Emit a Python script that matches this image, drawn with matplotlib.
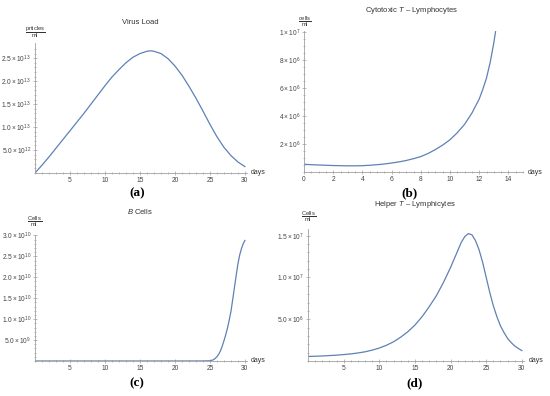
import numpy as np
import matplotlib.pyplot as plt

plt.rcParams['font.family'] = ['Liberation Sans', 'DejaVu Sans']
plt.rcParams['mathtext.fontset'] = 'custom'
plt.rcParams['mathtext.rm'] = 'Liberation Sans'
plt.rcParams['mathtext.it'] = 'Liberation Sans:italic'

# (a) virus load, particles/ml (units of 1e12)
virus_days = [0, 1, 2, 3, 4, 5, 6, 7, 8, 9, 10, 11, 12, 13, 14, 15, 16, 16.5, 17, 18, 19, 20,
              21, 22, 23, 24, 25, 26, 27, 28, 29, 30]
virus_load = [0, 1.7, 3.5, 5.4, 7.3, 9.2, 11.1, 13.0, 15.0, 17.0, 19.0, 20.9, 22.5, 24.0,
              25.2, 26.0, 26.5, 26.6, 26.5, 26.0, 24.9, 23.3, 21.3, 18.9, 16.3, 13.5, 10.6,
              7.9, 5.6, 3.8, 2.4, 1.4]

# (b) cytotoxic T lymphocytes, cells/ml (units of 1e6)
ctl_days = [0, 0.5, 1, 1.5, 2, 2.5, 3, 3.5, 4, 4.5, 5, 5.5, 6, 6.5, 7, 7.5, 8, 8.5, 9, 9.5,
            10, 10.5, 11, 11.5, 12, 12.25, 12.5, 12.75, 13, 13.12]
ctl_cells = [0.55, 0.52, 0.5, 0.48, 0.46, 0.45, 0.44, 0.44, 0.45, 0.48, 0.52, 0.57, 0.64,
             0.72, 0.82, 0.95, 1.1, 1.32, 1.6, 1.92, 2.3, 2.8, 3.4, 4.2, 5.2, 5.9, 6.7, 7.8,
             9.2, 10.0]

# (c) B cells, cells/ml (units of 1e9)
b_days = [0, 5, 10, 15, 20, 24, 25, 25.25, 25.5, 25.75, 26, 26.25, 26.5, 26.75, 27, 27.25,
          27.5, 27.75, 28, 28.25, 28.5, 28.75, 29, 29.25, 29.5, 29.75, 30]
b_cells = [0, 0, 0, 0, 0, 0.01, 0.05, 0.15, 0.3, 0.6, 1.0, 1.6, 2.4, 3.5, 4.8, 6.2, 7.8, 9.7,
           11.8, 14.6, 17.5, 20.4, 23.2, 25.3, 26.8, 28.0, 28.8]

# (d) helper T lymphocytes, cells/ml (units of 1e6)
th_days = [0, 1, 2, 3, 4, 5, 6, 7, 8, 9, 10, 11, 12, 13, 14, 15, 16, 17, 18, 19, 20, 20.5,
           21, 21.5, 22, 22.5, 23, 23.5, 24, 24.5, 25, 25.5, 26, 26.5, 27, 27.5, 28, 28.5,
           29, 29.5, 30]
th_cells = [0.55, 0.57, 0.6, 0.65, 0.7, 0.77, 0.85, 0.96, 1.1, 1.3, 1.55, 1.88, 2.3, 2.85,
            3.5, 4.3, 5.3, 6.5, 7.8, 9.4, 11.2, 12.2, 13.2, 14.2, 14.9, 15.25, 15.1, 14.4,
            13.3, 11.8, 10.0, 8.2, 6.6, 5.3, 4.2, 3.4, 2.7, 2.2, 1.8, 1.5, 1.25]

LINE = '#5E81B5'
AXC = '#a0a0a0'
TXT = '#444444'

W, H = 550, 396
fig = plt.figure(figsize=(5.5, 3.96), dpi=100)


def make_ax(left, right, bottom, top):
    ax = fig.add_axes([left / W, 1 - bottom / H, (right - left) / W, (bottom - top) / H])
    for s in ['top', 'right']:
        ax.spines[s].set_visible(False)
    for s in ['left', 'bottom']:
        ax.spines[s].set_color(AXC)
        ax.spines[s].set_linewidth(0.6)
    ax.tick_params(which='both', direction='inout', colors=AXC, labelcolor=TXT,
                   labelsize=4.8, width=0.5, pad=1.5)
    ax.tick_params(which='major', length=2.5)
    ax.tick_params(which='minor', length=1.5)
    ax.patch.set_alpha(0)
    return ax


def decorate(ax, title, ylab, tx, ty, ux, uy, dx, dy, plab, px, py):
    fig.text(tx / W, 1 - ty / H, title, ha='center', va='center', fontsize=5.5, color='#333333')
    fig.text(ux / W, 1 - uy / H, r'$\frac{\mathrm{%s}}{\mathrm{ml}}$' % ylab, ha='center',
             va='center', fontsize=6, color='#333333')
    fig.text(dx / W, 1 - dy / H, 'days', ha='left', va='center', fontsize=5, color='#333333')
    fig.text(px / W, 1 - py / H, plab, ha='center', va='center', fontsize=9.5,
             family='Liberation Serif', fontweight='bold')


# (a)
ax = make_ax(35, 247, 173, 43)
ax.plot(virus_days, virus_load, color=LINE, lw=0.9)
ax.set_xlim(0, 30.3)
ax.set_ylim(0, 28.3)
ax.set_xticks([5, 10, 15, 20, 25, 30])
ax.set_xticks(np.arange(0, 31, 1), minor=True)
ax.set_yticks([5, 10, 15, 20, 25])
ax.set_yticklabels([r'$5.0\times10^{12}$', r'$1.0\times10^{13}$', r'$1.5\times10^{13}$',
                    r'$2.0\times10^{13}$', r'$2.5\times10^{13}$'])
ax.set_yticks(np.arange(0, 28, 1), minor=True)
decorate(ax, 'Virus Load', 'prticles', 140, 22, 35, 33, 251, 172, '(a)', 137, 193)

# (b)
ax = make_ax(304, 523, 172, 31)
ax.plot(ctl_days, ctl_cells, color=LINE, lw=0.9)
ax.set_xlim(0, 15.0)
ax.set_ylim(0, 10.05)
ax.set_xticks([0, 2, 4, 6, 8, 10, 12, 14])
ax.set_xticks(np.arange(0, 15.01, 0.5), minor=True)
ax.set_yticks([2, 4, 6, 8, 10])
ax.set_yticklabels([r'$2\times10^{6}$', r'$4\times10^{6}$', r'$6\times10^{6}$',
                    r'$8\times10^{6}$', r'$1\times10^{7}$'])
ax.set_yticks(np.arange(0, 10.01, 0.5), minor=True)
decorate(ax, r'Cytotoxic $\mathit{T}$ – Lymphocytes', 'cells', 412, 11, 305, 22, 528, 172,
         '(b)', 410, 193)

# (c)
ax = make_ax(35, 247, 361, 235)
ax.plot(b_days, b_cells, color=LINE, lw=0.9)
ax.set_xlim(0, 30.3)
ax.set_ylim(0, 30.1)
ax.set_xticks([5, 10, 15, 20, 25, 30])
ax.set_xticks(np.arange(0, 31, 1), minor=True)
ax.set_yticks([5, 10, 15, 20, 25, 30])
ax.set_yticklabels([r'$5.0\times10^{9}$', r'$1.0\times10^{10}$', r'$1.5\times10^{10}$',
                    r'$2.0\times10^{10}$', r'$2.5\times10^{10}$', r'$3.0\times10^{10}$'])
ax.set_yticks(np.arange(0, 30.1, 1), minor=True)
decorate(ax, r'$\mathit{B}$ Cells', 'Cells', 140, 212, 35, 222, 251, 361, '(c)', 137, 383)

# (d)
ax = make_ax(308, 524, 361, 229)
ax.plot(th_days, th_cells, color=LINE, lw=0.9)
ax.set_xlim(0, 30.3)
ax.set_ylim(0, 15.8)
ax.set_xticks([5, 10, 15, 20, 25, 30])
ax.set_xticks(np.arange(0, 31, 1), minor=True)
ax.set_yticks([5, 10, 15])
ax.set_yticklabels([r'$5.0\times10^{6}$', r'$1.0\times10^{7}$', r'$1.5\times10^{7}$'])
ax.set_yticks(np.arange(0, 15.8, 1), minor=True)
decorate(ax, r'Helper $\mathit{T}$ – Lymphicytes', 'Cells', 415, 204, 309, 217, 529, 361,
         '(d)', 415, 383)

fig.savefig('out.png', dpi=100)
